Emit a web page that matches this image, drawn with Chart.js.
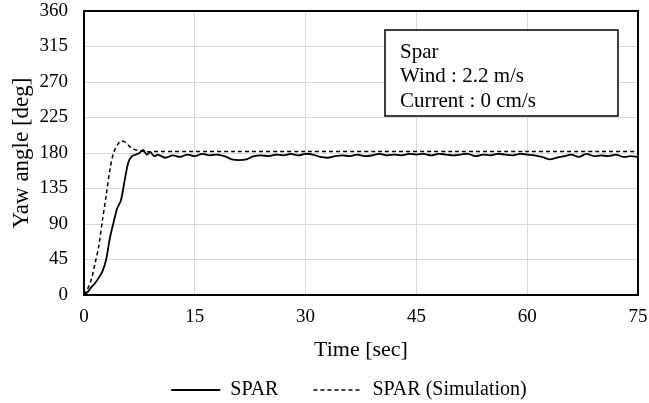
<!DOCTYPE html>
<html>
<head>
<meta charset="utf-8">
<script src="https://cdn.jsdelivr.net/npm/chart.js@4/dist/chart.umd.min.js"></script>
<style>
  html, body { margin: 0; padding: 0; background: #fff; }
  #wrap { width: 649px; height: 403px; }
</style>
</head>
<body>
<div id="wrap"><canvas id="c" width="649" height="403"></canvas></div>
<script>
// measured yaw angle (solid)
const expTime = [0, 0.5, 1, 1.5, 2, 2.5, 3, 3.5, 4, 4.5, 5, 5.5, 6, 6.5, 7, 7.5, 8, 8.5, 9, 9.5, 10,
  11, 12, 13, 14, 15, 16, 17, 18, 19, 20, 21, 22, 23, 24, 25, 26, 27, 28, 29, 30,
  31, 32, 33, 34, 35, 36, 37, 38, 39, 40, 41, 42, 43, 44, 45, 46, 47, 48, 49, 50,
  51, 52, 53, 54, 55, 56, 57, 58, 59, 60, 61, 62, 63, 64, 65, 66, 67, 68, 69, 70,
  71, 72, 73, 74, 75];
const expYaw = [0, 4, 10, 15, 22, 30, 45, 72, 92, 110, 120, 145, 168, 176, 178, 180, 184, 178, 181, 176, 178,
  174, 177, 175, 178, 176, 179, 177, 178, 176, 172, 171, 172, 176, 177, 176, 178, 177, 179, 177, 179,
  178, 175, 174, 176, 177, 176, 178, 176, 177, 179, 177, 178, 177, 179, 178, 179, 177, 179, 178, 177,
  178, 179, 176, 178, 177, 179, 178, 177, 179, 178, 177, 175, 172, 174, 176, 178, 175, 179, 176, 177,
  176, 178, 175, 176, 175];

// simulation (dashed)
const simTime = [0, 0.5, 1, 1.5, 2, 2.5, 3, 3.5, 4, 4.5, 5, 5.5, 6, 6.5, 7, 7.5, 8, 9, 10, 15, 20, 30, 40, 50, 60, 70, 75];
const simYaw = [0, 8, 20, 40, 62, 95, 126, 158, 180, 190, 195, 194, 190, 186, 184, 183, 182, 181.5, 182, 182, 182, 182, 182, 182, 182, 182, 182];

const seriesNames = ['SPAR', 'SPAR (Simulation)'];
const noteLines = ['Spar', 'Wind : 2.2 m/s', 'Current : 0 cm/s'];

const serif = "'Liberation Serif', 'Times New Roman', serif";
Chart.defaults.font.family = serif;
Chart.defaults.color = '#000';

const toPts = (xs, ys) => xs.map((x, i) => ({ x: x, y: ys[i] }));

const frameAndNote = {
  id: 'frameAndNote',
  afterLayout(chart) {
    // legend sits a bit left of the plot centre
    if (chart.legend) chart.legend.left -= 24;
  },
  afterDraw(chart) {
    const { ctx, chartArea: a } = chart;
    ctx.save();
    ctx.strokeStyle = '#000';
    ctx.lineWidth = 2;
    ctx.strokeRect(a.left, a.top, a.right - a.left, a.bottom - a.top);
    // note box
    const bx = 385, by = 30, bw = 233, bh = 86;
    ctx.fillStyle = '#fff';
    ctx.fillRect(bx, by, bw, bh);
    ctx.lineWidth = 1.5;
    ctx.strokeRect(bx, by, bw, bh);
    ctx.fillStyle = '#000';
    ctx.font = '21px ' + serif;
    ctx.textBaseline = 'middle';
    noteLines.forEach((t, i) => ctx.fillText(t, bx + 15, by + 22 + i * 24.5));
    ctx.restore();
  }
};

new Chart(document.getElementById('c'), {
  type: 'line',
  data: {
    datasets: [
      {
        label: seriesNames[0],
        data: toPts(expTime, expYaw),
        borderColor: '#000',
        backgroundColor: 'rgba(0,0,0,0)',
        borderWidth: 1.8,
        pointRadius: 0,
        pointStyle: 'line',
        tension: 0.3
      },
      {
        label: seriesNames[1],
        data: toPts(simTime, simYaw),
        borderColor: '#000',
        backgroundColor: 'rgba(0,0,0,0)',
        borderWidth: 1.5,
        borderDash: [4, 3],
        pointRadius: 0,
        pointStyle: 'line',
        tension: 0.3
      }
    ]
  },
  options: {
    responsive: false,
    animation: false,
    layout: { padding: { top: 11, right: 11, left: 0, bottom: -7 } },
    plugins: {
      legend: {
        position: 'bottom',
        fullSize: false,
        labels: {
          usePointStyle: true,
          pointStyleWidth: 49,
          boxHeight: 10,
          padding: 35,
          color: '#000',
          font: { size: 20 },
          generateLabels(chart) {
            const items = Chart.defaults.plugins.legend.labels.generateLabels(chart);
            items.forEach((it) => {
              const ds = chart.data.datasets[it.datasetIndex];
              it.lineDash = ds.borderDash || [];
              it.lineWidth = ds.borderWidth;
              it.strokeStyle = '#000';
            });
            return items;
          }
        }
      },
      tooltip: { enabled: false }
    },
    scales: {
      x: {
        type: 'linear',
        min: 0, max: 75,
        ticks: { stepSize: 15, color: '#000', font: { size: 19 }, padding: 11 },
        grid: { color: '#d9d9d9', drawTicks: false },
        border: { display: false },
        title: { display: true, text: 'Time [sec]', color: '#000', font: { size: 22 }, padding: { top: 0, bottom: -18 } },
        afterFit(s) { s.height = 50; s.paddingLeft = 0; s.paddingRight = 0; }
      },
      y: {
        min: 0, max: 360,
        ticks: { stepSize: 45, color: '#000', font: { size: 19 }, padding: 16 },
        grid: { color: '#d9d9d9', drawTicks: false },
        border: { display: false },
        title: { display: true, text: 'Yaw angle [deg]', color: '#000', font: { size: 23 }, padding: { top: 8, bottom: 0 } },
        afterFit(s) { s.width = 84; s.paddingTop = 0; s.paddingBottom = 0; }
      }
    }
  },
  plugins: [frameAndNote]
});
</script>
</body>
</html>
